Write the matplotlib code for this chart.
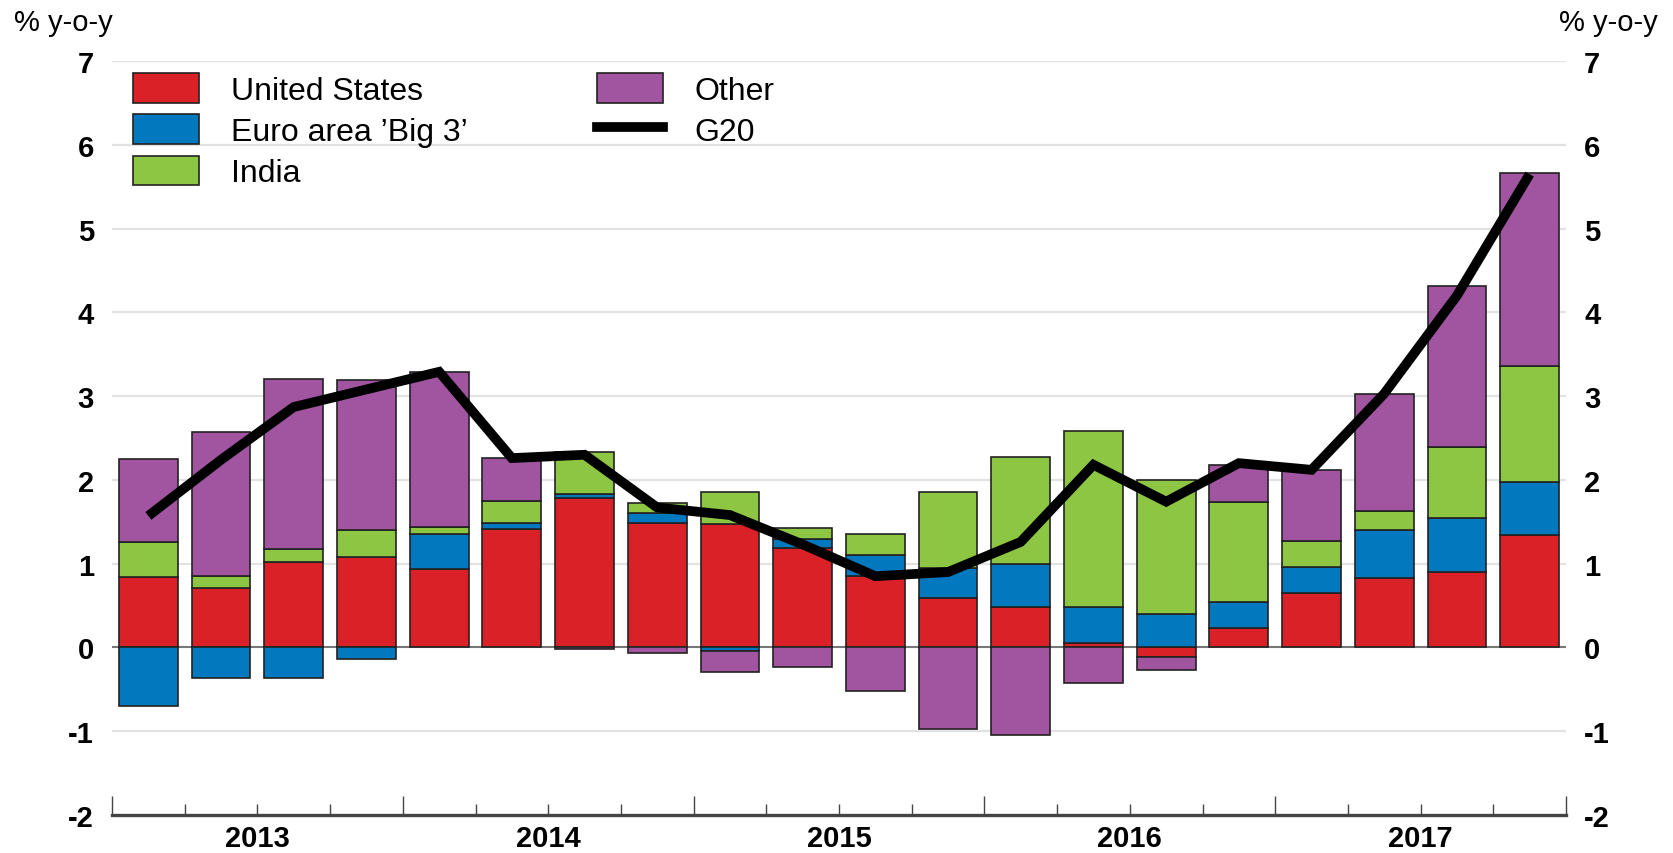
import matplotlib
matplotlib.use("Agg")
import matplotlib.pyplot as plt
import numpy as np
from matplotlib.patches import Patch
from matplotlib.lines import Line2D
from matplotlib.transforms import blended_transform_factory

plt.rcParams['font.family'] = ['Liberation Sans', 'DejaVu Sans']

# ---- data -------------------------------------------------------------
years = ['2013', '2014', '2015', '2016', '2017']
quarters_per_year = 4
series_names = ['United States', 'Euro area \u2019Big 3\u2019', 'India', 'Other']
united_states = [0.84, 0.71, 1.02, 1.08, 0.94, 1.41, 1.78, 1.49, 1.47, 1.19,
                 0.85, 0.59, 0.48, 0.05, -0.12, 0.23, 0.65, 0.83, 0.90, 1.34]
euro_big3 = [-0.70, -0.37, -0.36, -0.14, 0.42, 0.08, 0.05, 0.12, -0.04, 0.11,
             0.25, 0.36, 0.52, 0.43, 0.40, 0.31, 0.31, 0.57, 0.64, 0.63]
india = [0.42, 0.14, 0.15, 0.32, 0.08, 0.26, 0.50, 0.12, 0.38, 0.13,
         0.26, 0.90, 1.27, 2.10, 1.60, 1.20, 0.31, 0.23, 0.85, 1.39]
other = [0.99, 1.72, 2.03, 1.79, 1.85, 0.51, -0.02, -0.07, -0.25, -0.23,
         -0.52, -0.97, -1.04, -0.42, -0.15, 0.44, 0.85, 1.40, 1.93, 2.30]
g20 = [1.57, 2.24, 2.87, 3.08, 3.29, 2.26, 2.30, 1.67, 1.58, 1.23,
       0.85, 0.90, 1.26, 2.18, 1.74, 2.20, 2.12, 3.03, 4.20, 5.65]
yticks = [-2, -1, 0, 1, 2, 3, 4, 5, 6, 7]
unit_label = '% y-o-y'

colors = ['#DA2128', '#0279BF', '#8DC642', '#A155A1']
edge = '#222222'

# ---- figure -----------------------------------------------------------
W, H = 1673, 854
fig = plt.figure(figsize=(W / 100, H / 100), dpi=100)
ax = fig.add_axes([112 / W, 1 - 816 / H, (1566 - 112) / W, (816 - 62) / H])

n = len(g20)
x = np.arange(n)
pos_base = np.zeros(n)
neg_base = np.zeros(n)
for vals, col in zip([united_states, euro_big3, india, other], colors):
    v = np.array(vals)
    bottoms = np.where(v >= 0, pos_base, neg_base)
    ax.bar(x, v, bottom=bottoms, width=0.81, color=col, edgecolor=edge,
           linewidth=1.2, zorder=3)
    pos_base = pos_base + np.where(v >= 0, v, 0)
    neg_base = neg_base + np.where(v < 0, v, 0)

ax.plot(x, g20, color='black', linewidth=7.0, zorder=5,
        solid_joinstyle='miter', solid_capstyle='butt')

ax.set_xlim(-0.5, n - 0.5)
ax.set_ylim(yticks[0], yticks[-1])

# gridlines
for yv in yticks[1:]:
    if yv == 0:
        ax.axhline(yv, color='#777777', linewidth=1.5, zorder=2)
    else:
        ax.axhline(yv, color='#e2e2e2', linewidth=1.6, zorder=1)

for s in ['top', 'left', 'right']:
    ax.spines[s].set_visible(False)
ax.spines['bottom'].set_color('#444444')
ax.spines['bottom'].set_linewidth(2.4)

# y ticks both sides
ax.set_yticks(yticks)
ax.set_yticklabels([str(t) for t in yticks])
ax.tick_params(axis='y', length=0, labelleft=True, labelright=True,
               labelsize=21, pad=13)
for t in ax.yaxis.get_major_ticks():
    t.label1.set_fontweight('bold')
    t.label2.set_fontweight('bold')

# x ticks: year boundaries (major, longer), quarter boundaries (minor)
n_years = len(years)
year_bounds = [i * quarters_per_year - 0.5 for i in range(n_years + 1)]
quarter_bounds = [i - 0.5 for i in range(n + 1) if i % quarters_per_year != 0]
ax.set_xticks(year_bounds)
ax.set_xticklabels([''] * len(year_bounds))
ax.set_xticks(quarter_bounds, minor=True)
ax.tick_params(axis='x', which='major', direction='in', length=14,
               width=1.0, color='#444444')
ax.tick_params(axis='x', which='minor', direction='in', length=8,
               width=1.0, color='#444444')

trans = blended_transform_factory(ax.transData, ax.transAxes)
for i, yr in enumerate(years):
    cx = i * quarters_per_year + (quarters_per_year - 1) / 2
    ax.text(cx, -0.030, yr, transform=trans, ha='center', va='center',
            fontsize=21, fontweight='bold')

# unit labels
fig.text(14 / W, 1 - 23 / H, unit_label, ha='left', va='center', fontsize=21)
fig.text(1658 / W, 1 - 23 / H, unit_label, ha='right', va='center', fontsize=21)

# legend
handles = [Patch(facecolor=c, edgecolor=edge, linewidth=1.2) for c in colors]
handles.append(Line2D([0], [0], color='black', linewidth=7.0))
labels = series_names + ['G20']
leg = fig.legend(handles, labels, loc='upper left',
                 bbox_to_anchor=(133 / W, 1 - 74 / H), ncol=2, frameon=False,
                 fontsize=23, handlelength=2.06, handleheight=1.05,
                 handletextpad=1.0, labelspacing=0.27, columnspacing=4.05,
                 borderpad=0, borderaxespad=0)

fig.savefig('out.png', dpi=100)
